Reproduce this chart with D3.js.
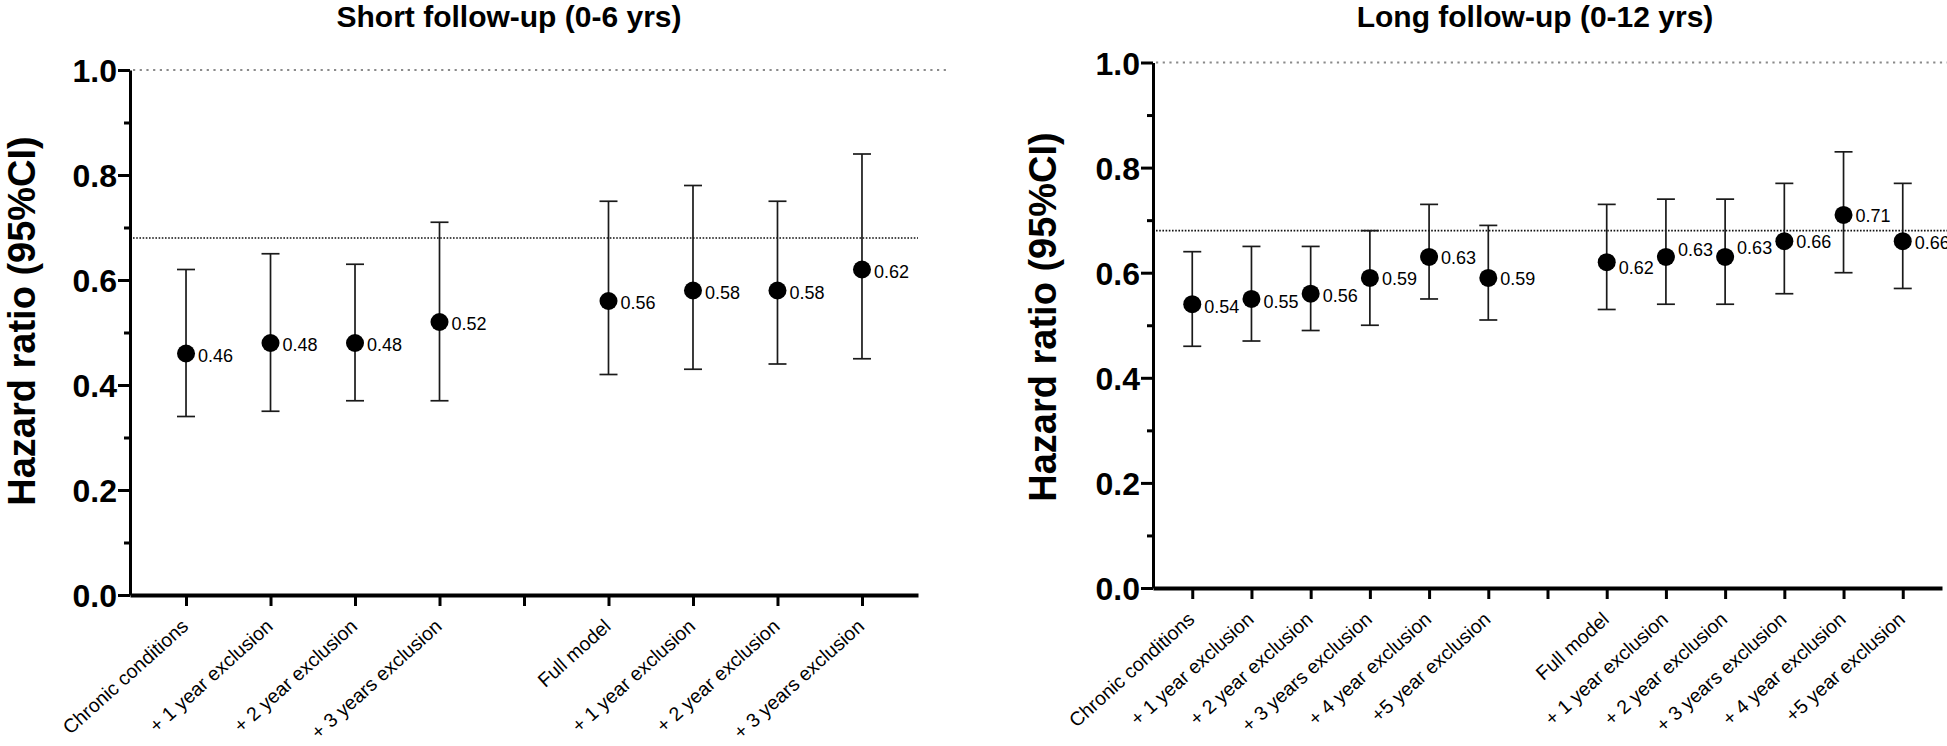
<!DOCTYPE html>
<html>
<head>
<meta charset="utf-8">
<script src="https://cdn.jsdelivr.net/npm/d3@7"></script>
<style>
  html, body { margin: 0; padding: 0; background: #fff; }
  svg { display: block; }
  text { font-family: "Liberation Sans", Arial, Helvetica, sans-serif; }
</style>
</head>
<body>
<svg id="chart" width="1947" height="746"></svg>
<script>
// ---------- data ----------
const shortTitle = "Short follow-up (0-6 yrs)";
const longTitle = "Long follow-up (0-12 yrs)";
const yAxisTitle = "Hazard ratio (95%CI)";

const shortGroupA = ["Chronic conditions", "+ 1 year exclusion", "+ 2 year exclusion", "+ 3 years exclusion"];
const shortGroupB = ["Full model", "+ 1 year exclusion", "+ 2 year exclusion", "+ 3 years exclusion"];
const shortHR = [0.46, 0.48, 0.48, 0.52, 0.56, 0.58, 0.58, 0.62];
const shortLo = [0.34, 0.35, 0.37, 0.37, 0.42, 0.43, 0.44, 0.45];
const shortHi = [0.62, 0.65, 0.63, 0.71, 0.75, 0.78, 0.75, 0.84];

const longGroupA = ["Chronic conditions", "+ 1 year exclusion", "+ 2 year exclusion", "+ 3 years exclusion", "+ 4 year exclusion", "+5 year exclusion"];
const longGroupB = ["Full model", "+ 1 year exclusion", "+ 2 year exclusion", "+ 3 years exclusion", "+ 4 year exclusion", "+5 year exclusion"];
const longHR = [0.54, 0.55, 0.56, 0.59, 0.63, 0.59, 0.62, 0.63, 0.63, 0.66, 0.71, 0.66];
const longLo = [0.46, 0.47, 0.49, 0.50, 0.55, 0.51, 0.53, 0.54, 0.54, 0.56, 0.60, 0.57];
const longHi = [0.64, 0.65, 0.65, 0.68, 0.73, 0.69, 0.73, 0.74, 0.74, 0.77, 0.83, 0.77];

const majorTicks = [0.0, 0.2, 0.4, 0.6, 0.8, 1.0];
const minorTicks = [0.1, 0.3, 0.5, 0.7, 0.9];
const nullLine = 1.0;
const refLine = 0.68;

// label vertical nudges (px), style only
const shortNudge = [2, 2, 2, 2, 2, 2, 2, 2];
const longNudge = [2, 3, 2, 1, 1, 1, 5, -7, -9, 0, 1, 1];

// ---------- drawing ----------
const svg = d3.select("#chart");
const fmt2 = d3.format(".2f");

function drawPanel(cfg) {
  const g = svg.append("g");
  const labels = [...cfg.groupA, "", ...cfg.groupB];
  const x = d3.scalePoint().domain(d3.range(labels.length)).range([cfg.x0, cfg.x1]).padding(0.663);
  const y = d3.scaleLinear().domain([0, 1]).range([cfg.yBot, cfg.yTop]);

  const pts = cfg.hr.map((v, i) => ({
    slot: i < cfg.groupA.length ? i : i + 1,
    hr: v, lo: cfg.lo[i], hi: cfg.hi[i], nudge: cfg.nudge[i]
  }));

  // title
  g.append("text").attr("x", cfg.titleX).attr("y", cfg.titleY)
    .attr("text-anchor", "middle").attr("font-size", 30).attr("font-weight", "bold")
    .attr("fill", "#000").text(cfg.title);

  // y label
  g.append("text").attr("transform", `translate(${cfg.labelX},${cfg.labelY}) rotate(-90)`)
    .attr("text-anchor", "middle").attr("font-size", 38).attr("font-weight", "bold")
    .attr("fill", "#000").text(yAxisTitle);

  // reference lines
  g.append("line").attr("x1", cfg.x0 + 3).attr("x2", cfg.nullEnd)
    .attr("y1", y(nullLine)).attr("y2", y(nullLine))
    .attr("stroke", "#8a8a8a").attr("stroke-width", 2.2).attr("stroke-dasharray", "2.2,4.5");
  g.append("line").attr("x1", cfg.x0 + 3).attr("x2", cfg.refEnd)
    .attr("y1", y(refLine)).attr("y2", y(refLine))
    .attr("stroke", "#111").attr("stroke-width", 1.6).attr("stroke-dasharray", "1.6,1.6");

  // y axis major
  const gy = g.append("g").attr("transform", `translate(${cfg.x0},0)`)
    .call(d3.axisLeft(y).tickValues(majorTicks).tickFormat(d3.format(".1f"))
      .tickSize(12).tickSizeOuter(0).tickPadding(1));
  gy.select(".domain").attr("stroke", "#000").attr("stroke-width", 3);
  gy.selectAll(".tick line").attr("stroke", "#000").attr("stroke-width", 3);
  gy.selectAll(".tick text").attr("font-size", 32).attr("font-weight", "bold")
    .attr("font-family", "'Liberation Sans', Arial, sans-serif").attr("fill", "#000").attr("dy", "0.36em");

  // y axis minor
  const gm = g.append("g").attr("transform", `translate(${cfg.x0},0)`)
    .call(d3.axisLeft(y).tickValues(minorTicks).tickFormat("").tickSize(6).tickSizeOuter(0));
  gm.select(".domain").remove();
  gm.selectAll(".tick line").attr("stroke", "#000").attr("stroke-width", 3);

  // x axis
  const gx = g.append("g").attr("transform", `translate(0,${cfg.yBot})`)
    .call(d3.axisBottom(x).tickFormat(i => labels[i]).tickSize(11).tickSizeOuter(0));
  gx.select(".domain").attr("stroke", "#000").attr("stroke-width", 4);
  gx.selectAll(".tick line").attr("stroke", "#000").attr("stroke-width", 3);
  gx.selectAll(".tick text")
    .attr("x", 0).attr("y", 0).attr("dy", null)
    .attr("text-anchor", "end")
    .attr("transform", "translate(3,33) rotate(-42)")
    .attr("font-size", 19.5).attr("font-family", "'Liberation Sans', Arial, sans-serif")
    .attr("fill", "#000");

  // error bars
  const eb = g.append("g").selectAll("g").data(pts).join("g");
  eb.append("line").attr("x1", d => x(d.slot)).attr("x2", d => x(d.slot))
    .attr("y1", d => y(d.lo)).attr("y2", d => y(d.hi))
    .attr("stroke", "#1a1a1a").attr("stroke-width", 1.7);
  eb.append("line").attr("x1", d => x(d.slot) - 9).attr("x2", d => x(d.slot) + 9)
    .attr("y1", d => y(d.lo)).attr("y2", d => y(d.lo))
    .attr("stroke", "#1a1a1a").attr("stroke-width", 1.7);
  eb.append("line").attr("x1", d => x(d.slot) - 9).attr("x2", d => x(d.slot) + 9)
    .attr("y1", d => y(d.hi)).attr("y2", d => y(d.hi))
    .attr("stroke", "#1a1a1a").attr("stroke-width", 1.7);
  eb.append("circle").attr("cx", d => x(d.slot)).attr("cy", d => y(d.hr))
    .attr("r", 9).attr("fill", "#000");
  eb.append("text").attr("x", d => x(d.slot) + 12).attr("y", d => y(d.hr) + d.nudge)
    .attr("dy", "0.36em").attr("font-size", 18).attr("fill", "#000")
    .text(d => fmt2(d.hr));
}

drawPanel({
  title: shortTitle, titleX: 509, titleY: 27,
  labelX: 35, labelY: 321,
  x0: 130, x1: 918, yTop: 70, yBot: 595,
  nullEnd: 948, refEnd: 918,
  groupA: shortGroupA, groupB: shortGroupB,
  hr: shortHR, lo: shortLo, hi: shortHi, nudge: shortNudge
});

drawPanel({
  title: longTitle, titleX: 1535, titleY: 27,
  labelX: 1056, labelY: 317,
  x0: 1153, x1: 1942, yTop: 62.5, yBot: 588,
  nullEnd: 1947, refEnd: 1947,
  groupA: longGroupA, groupB: longGroupB,
  hr: longHR, lo: longLo, hi: longHi, nudge: longNudge
});
</script>
</body>
</html>
